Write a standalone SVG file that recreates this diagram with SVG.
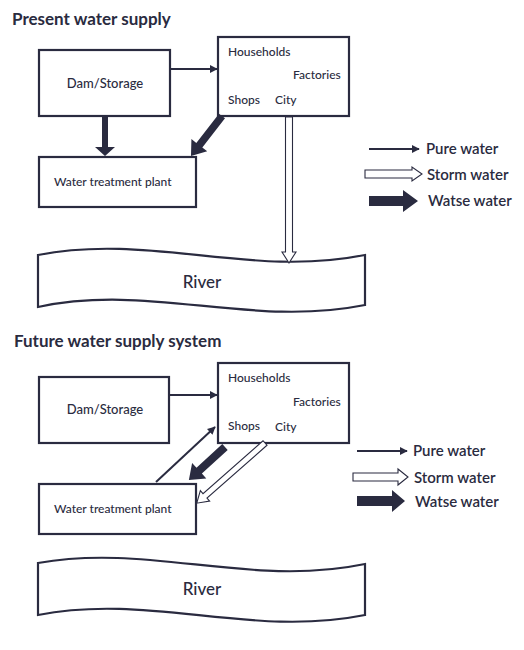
<svg xmlns="http://www.w3.org/2000/svg" width="524" height="650" viewBox="0 0 524 650">
<style>
.box{fill:#fff;stroke:#2a2b40;stroke-width:2.2}
.t{font-family:Lato,"Open Sans","Liberation Sans",sans-serif;fill:#2a2b40}
.title{font-size:17px;font-weight:bold}
.lbl{font-size:12px;font-weight:500}
.big{font-size:13px;font-weight:500}
.leg{font-size:15px;font-weight:600}
.river{font-size:17px;font-weight:500}
.pure{stroke:#2a2b40;stroke-width:2;fill:none}
.waste{fill:#2a2b40}
.storm{fill:#fff;stroke:#2a2b40;stroke-width:1.1}
</style>
<defs>
<marker id="ah" viewBox="0 0 10 10" refX="9" refY="5" markerWidth="4" markerHeight="4" orient="auto" markerUnits="strokeWidth">
<path d="M0,0 L10,5 L0,10 z" fill="#2a2b40"/>
</marker>
</defs>
<rect width="524" height="650" fill="#fff"/>

<text class="t title" x="12" y="25">Present water supply</text>
<text class="t title" x="14" y="347">Future water supply system</text>

<g id="present-dam"><rect class="box" x="39" y="50" width="131" height="66"/><text class="t big" x="105" y="88" text-anchor="middle">Dam/Storage</text></g>
<g id="present-city"><rect class="box" x="218" y="37" width="131" height="79"/>
<text class="t lbl" x="228" y="56">Households</text><text class="t lbl" x="293" y="79">Factories</text><text class="t lbl" x="228" y="104">Shops</text><text class="t lbl" x="275" y="104">City</text></g>
<g id="present-wtp"><rect class="box" x="39" y="157" width="157" height="50"/><text class="t lbl" x="54" y="186">Water treatment plant</text></g>
<g id="present-river"><path class="box" d="M38,255 C150,233 250,278 365,255 L365,305 C250,328 150,283 38,307 Z"/><text class="t river" x="202" y="288" text-anchor="middle">River</text></g>

<g id="future-dam"><rect class="box" x="39" y="377" width="130" height="66"/><text class="t big" x="105" y="414" text-anchor="middle">Dam/Storage</text></g>
<g id="future-city"><rect class="box" x="218" y="363" width="131" height="80"/>
<text class="t lbl" x="228" y="382">Households</text><text class="t lbl" x="293" y="406">Factories</text><text class="t lbl" x="228" y="430">Shops</text><text class="t lbl" x="275" y="431">City</text></g>
<g id="future-wtp"><rect class="box" x="39" y="484" width="157" height="50"/><text class="t lbl" x="54" y="513">Water treatment plant</text></g>
<g id="future-river"><path class="box" d="M38,563 C150,543 250,588 365,564 L365,615 C250,638 150,593 38,615 Z"/><text class="t river" x="202" y="595" text-anchor="middle">River</text></g>

<g id="connectors">
<line class="pure" x1="170" y1="69" x2="217" y2="69" marker-end="url(#ah)"/>
<polygon class="waste" points="102,116 108,116 108,147 115,147 105,156 95,147 102,147"/>
<polygon class="waste" transform="translate(222,116) rotate(127.8)" points="0,-3.8 37,-3.8 37,-10 50.6,0 37,10 37,3.8 0,3.8"/>
<polygon class="storm" points="285.5,117 292.5,117 292.5,252 296,252 289,263 282,252 285.5,252"/>

<line class="pure" x1="169" y1="395" x2="217" y2="395" marker-end="url(#ah)"/>
<line class="pure" x1="156" y1="482" x2="215" y2="427" marker-end="url(#ah)"/>
<polygon class="waste" transform="translate(225,447) rotate(137.5)" points="0,-4 35,-4 35,-10.5 49,0 35,10.5 35,4 0,4"/>
<polygon class="storm" transform="translate(265,443) rotate(138.6)" points="0,-3 80,-3 80,-7 91,0 80,7 80,3 0,3"/>
</g>

<g id="legend-present">
<line class="pure" x1="369" y1="149" x2="419" y2="149" marker-end="url(#ah)"/>
<text class="t leg" x="426" y="154">Pure water</text>
<polygon class="storm" points="365,170 412,170 412,167 422,174 412,181 412,178 365,178"/>
<text class="t leg" x="427" y="180">Storm water</text>
<polygon class="waste" points="369,196 403,196 403,190 418,201 403,212 403,206 369,206"/>
<text class="t leg" x="428" y="206">Watse water</text>
</g>
<g id="legend-future">
<line class="pure" x1="357" y1="451" x2="407" y2="451" marker-end="url(#ah)"/>
<text class="t leg" x="413" y="456">Pure water</text>
<polygon class="storm" points="353,473 398,473 398,469 408,477 398,485 398,481 353,481"/>
<text class="t leg" x="414" y="483">Storm water</text>
<polygon class="waste" points="357,496 392,496 392,490 405,501 392,512 392,506 357,506"/>
<text class="t leg" x="415" y="507">Watse water</text>
</g>
</svg>
